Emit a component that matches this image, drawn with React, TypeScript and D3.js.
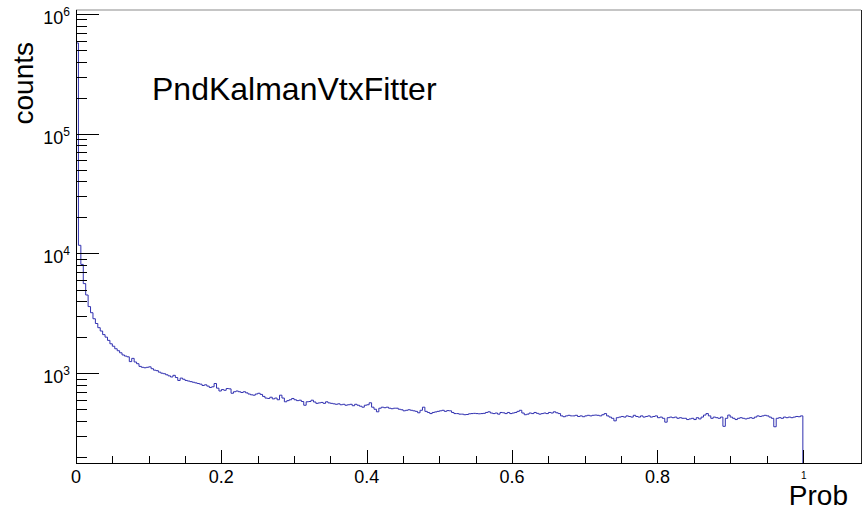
import React from "react";
import * as d3 from "d3";

const counts: number[] = [
  573000, 11700, 8100, 5600, 4500, 3600, 3200, 2850, 2600, 2400,
  2250, 2100, 2000, 1880, 1760, 1680, 1600, 1540, 1480, 1420,
  1390, 1370, 1250, 1330, 1240, 1200, 1140, 1120, 1110, 1120,
  1130, 1090, 1060, 1050, 1020, 1000, 990, 970, 950, 930,
  960, 920, 870, 910, 890, 870, 860, 850, 840, 830,
  820, 810, 790, 800, 780, 760, 770, 820, 750, 710,
  730, 720, 745, 740, 680, 700, 710, 700, 690, 700,
  685, 670, 660, 655, 670, 680, 665, 640, 620, 615,
  630, 610, 620, 600, 655, 620, 577, 590, 600, 615,
  600, 590, 595, 580, 540, 577, 580, 595, 575, 560,
  565, 570, 560, 577, 565, 560, 555, 550, 555, 545,
  550, 540, 545, 550, 535, 550, 540, 530, 520, 540,
  545, 566, 520, 500, 476, 510, 520, 515, 520, 510,
  505, 510, 510, 500, 495, 485, 490, 495, 490, 485,
  480, 467, 490, 520, 480, 470, 460, 470, 475, 480,
  485, 490, 480, 487, 485, 470, 460, 460, 455, 455,
  450, 452, 458, 460, 462, 460, 458, 460, 462, 470,
  476, 465, 460, 465, 455, 470, 467, 460, 470, 460,
  465, 470, 480, 490, 465, 450, 455, 465, 460, 470,
  462, 455, 460, 465, 460, 470, 465, 476, 467, 460,
  440, 433, 440, 445, 440, 440, 445, 435, 440, 433,
  440, 445, 440, 445, 447, 445, 440, 450, 460, 440,
  430, 420, 400, 425, 430, 435, 430, 440, 435, 430,
  445, 435, 430, 440, 430, 435, 440, 430, 435, 440,
  425, 430, 420, 390, 425, 430, 425, 430, 420, 425,
  420, 420, 410, 415, 420, 410, 425, 415, 430, 447,
  460, 440, 420, 430, 425, 420, 430, 360, 420, 447,
  430, 420, 410, 420, 425, 420, 415, 420, 425, 420,
  430, 440, 435, 440, 445, 440, 430, 420, 357, 420,
  425, 420, 430, 425, 430, 425, 430, 435, 433, 440,
];

const xRange = [0, 1.08];
const histRange = [0, 1];
const xMajorTicks = [0, 0.2, 0.4, 0.6, 0.8, 1];
const xMajorLabels = ["0", "0.2", "0.4", "0.6", "0.8", "1"];
const yDecades = [3, 4, 5, 6];
const yMin = Math.pow(10, 2.25);
const yMax = Math.pow(10, 6 + 4 / 120);
const title = "PndKalmanVtxFitter";
const xTitle = "Prob";
const yTitle = "counts";

const W = 868;
const H = 511;
const L = 76;
const R = 861;
const T = 10;
const B = 463;
const FONT = "'Liberation Sans', Arial, Helvetica, sans-serif";

export default function App() {
  const x = d3.scaleLinear().domain(xRange).range([L, R]);
  const y = d3.scaleLog().domain([yMin, yMax]).range([B, T]);
  const n = counts.length;
  const bw = (histRange[1] - histRange[0]) / n;

  let d = `M${x(histRange[0])},${B}`;
  counts.forEach((c, i) => {
    const x0 = x(histRange[0] + i * bw);
    const x1 = x(histRange[0] + (i + 1) * bw);
    const yy = y(c);
    d += `L${x0},${yy}L${x1},${yy}`;
  });
  d += `L${x(histRange[1])},${B}`;

  const xMinor = d3.range(0, 21).map((k) => k * 0.05).filter((v) => v <= 1.08);
  const yMinor: number[] = [];
  for (let e = 2; e <= 5; e++) {
    for (let k = 2; k <= 9; k++) {
      const v = k * Math.pow(10, e);
      if (v >= yMin && v <= yMax) yMinor.push(v);
    }
  }

  return (
    <svg
      width={W}
      height={H}
      style={{ position: "absolute", left: 0, top: 0, background: "#fff" }}
      fontFamily={FONT}
    >
      <rect x={0} y={0} width={W} height={H} fill="#fff" />
      <defs>
        <clipPath id="frame">
          <rect x={L} y={T} width={R - L} height={B - T} />
        </clipPath>
      </defs>
      {/* frame top & right */}
      <line x1={L} x2={R} y1={T} y2={T} stroke="#000" strokeWidth={1} opacity={0.45} />
      <line x1={R + 0.5} x2={R + 0.5} y1={T} y2={B} stroke="#222" strokeWidth={1} />

      {/* histogram */}
      <path d={d} fill="none" stroke="#3030b0" strokeWidth={1} clipPath="url(#frame)" />

      {/* x axis */}
      <line x1={L} x2={R + 1} y1={B + 0.5} y2={B + 0.5} stroke="#000" strokeWidth={1} />
      {xMinor.map((v, i) => {
        const major = Math.abs(Math.round(v * 5) - v * 5) < 1e-6;
        const xx = Math.round(x(v)) + 0.5;
        return (
          <line key={"xt" + i} x1={xx} x2={xx} y1={B} y2={B - (major ? 13 : 7)} stroke="#000" strokeWidth={1} />
        );
      })}
      {xMajorTicks.map((v, i) =>
        v === 1 ? (
          <text key={"xl" + i} x={x(v) + 1} y={479} fontSize={10} textAnchor="middle" fill="#000">
            {xMajorLabels[i]}
          </text>
        ) : (
          <text key={"xl" + i} x={x(v)} y={483} fontSize={18} textAnchor="middle" fill="#000">
            {xMajorLabels[i]}
          </text>
        )
      )}
      <text x={848} y={505} fontSize={28} textAnchor="end" fill="#000">
        {xTitle}
      </text>

      {/* y axis */}
      <line x1={L + 0.5} x2={L + 0.5} y1={T} y2={B + 1} stroke="#000" strokeWidth={1} />
      {yDecades.map((e) => {
        const yy = Math.round(y(Math.pow(10, e))) + 0.5;
        return <line key={"ymj" + e} x1={L} x2={L + 23} y1={yy} y2={yy} stroke="#000" strokeWidth={1} />;
      })}
      {yMinor.map((v, i) => {
        const yy = Math.round(y(v)) + 0.5;
        return <line key={"ymn" + i} x1={L} x2={L + 11} y1={yy} y2={yy} stroke="#000" strokeWidth={1} />;
      })}
      {yDecades.map((e) => {
        const yy = y(Math.pow(10, e));
        return (
          <text key={"yl" + e} x={70} y={yy + 10} fontSize={18} textAnchor="end" fill="#000">
            10
            <tspan fontSize={12} dy={-8}>
              {String(e)}
            </tspan>
          </text>
        );
      })}
      <text
        transform={`translate(33,42) rotate(-90)`}
        fontSize={28}
        textAnchor="end"
        fill="#000"
      >
        {yTitle}
      </text>

      <text x={152} y={100} fontSize={32} fill="#000">
        {title}
      </text>
    </svg>
  );
}
